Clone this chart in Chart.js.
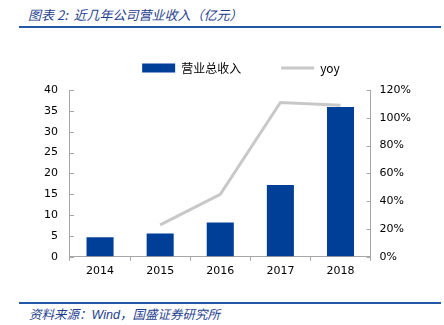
<!DOCTYPE html>
<html>
<head>
<meta charset="utf-8">
<script src="https://cdn.jsdelivr.net/npm/chart.js@4.4.1/dist/chart.umd.min.js"></script>
<style>
  body{margin:0;background:#fff;width:444px;height:325px;position:relative;overflow:hidden;}
  .title{position:absolute;left:28px;top:5px;font:italic 13px "Noto Sans CJK SC",sans-serif;color:#1f3f8f;white-space:nowrap;}
  .rule{position:absolute;left:19px;width:422px;height:2px;background:#2457a8;}
  .src{position:absolute;left:29px;top:304px;font:italic 12.5px "Noto Sans CJK SC",sans-serif;color:#1f3f8f;white-space:nowrap;}
  .box{position:absolute;left:0;top:16px;width:444px;height:266px;}
</style>
</head>
<body>
<div class="title">图表 2:&nbsp; 近几年公司营业收入（亿元）</div>
<div class="rule" style="top:26px"></div>
<div class="box"><canvas id="revChart"></canvas></div>
<div class="rule" style="top:302px"></div>
<div class="src">资料来源：<span style="font-family:'Liberation Sans',sans-serif">Wind</span>，国盛证券研究所</div>
<script>
const years = ["2014","2015","2016","2017","2018"];
const revenue = [4.7, 5.6, 8.2, 17.2, 35.9];
const yoy = [null, 23, 45, 111, 109];

const axisGray = "#a6a6a6";

// short tick marks pointing into the plot, like the original
const innerTicks = {
  id:"innerTicks",
  beforeLayout(chart){
    // a bit more room between the legend and the plot
    const lg = chart.legend;
    if(lg && !lg._padded){
      const fit = lg.fit;
      lg.fit = function(){ fit.call(this); this.height += 6; };
      lg._padded = true;
    }
  },
  afterLayout(chart){
    // legend sits a little right of centre in the original
    const lg = chart.legend;
    if(lg){ lg.left += 15; lg.right += 15; }
  },
  afterDraw(chart){
    const c = chart.ctx;
    c.save();
    c.strokeStyle = axisGray;
    c.lineWidth = 1;
    ["y","y1"].forEach((id)=>{
      const s = chart.scales[id];
      const x = id === "y" ? s.right : s.left;
      const dir = id === "y" ? 1 : -1;
      s.ticks.forEach((t)=>{
        const py = Math.round(s.getPixelForValue(t.value)) + .5;
        c.beginPath();
        c.moveTo(x, py);
        c.lineTo(x + dir*4, py);
        c.stroke();
      });
    });
    c.restore();
  }
};

const ctx = document.getElementById("revChart");

new Chart(ctx,{
  type:"bar",
  data:{
    labels:years,
    datasets:[
      {
        label:"营业总收入",
        data:revenue,
        backgroundColor:"#003f98",
        borderWidth:0,
        barPercentage:.45,
        categoryPercentage:1,
        pointStyle:"rect",
        yAxisID:"y",
        order:1
      },
      {
        type:"line",
        label:"yoy",
        data:yoy,
        borderColor:"#c8c8c8",
        backgroundColor:"#c8c8c8",
        borderWidth:3,
        pointRadius:0,
        tension:0,
        pointStyle:"line",
        yAxisID:"y1",
        order:2
      }
    ]
  },
  options:{
    responsive:true,
    maintainAspectRatio:false,
    animation:false,
    layout:{padding:{left:32,right:24,top:6,bottom:0}},
    plugins:{
      legend:{
        display:true,
        position:"top",
        labels:{
          usePointStyle:true,
          pointStyleWidth:33,
          boxHeight:9,
          padding:40,
          color:"#000",
          font:{family:"'Noto Sans CJK SC','DejaVu Sans',sans-serif",size:12}
        }
      },
      tooltip:{enabled:false}
    },
    scales:{
      x:{
        grid:{offset:true,drawOnChartArea:false,tickLength:4,color:axisGray},
        border:{color:axisGray},
        ticks:{color:"#000",padding:4,font:{family:"'DejaVu Sans'",size:11}}
      },
      y:{
        position:"left",
        min:0,max:40,
        grid:{drawOnChartArea:false,drawTicks:false},
        border:{color:axisGray},
        ticks:{stepSize:5,color:"#000",padding:12,font:{family:"'DejaVu Sans'",size:11}}
      },
      y1:{
        position:"right",
        min:0,max:120,
        grid:{drawOnChartArea:false,drawTicks:false},
        border:{color:axisGray},
        ticks:{stepSize:20,color:"#000",padding:9,font:{family:"'DejaVu Sans'",size:11},
          callback:(v)=>v+"%"}
      }
    }
  },
  plugins:[innerTicks]
});
</script>
</body>
</html>
